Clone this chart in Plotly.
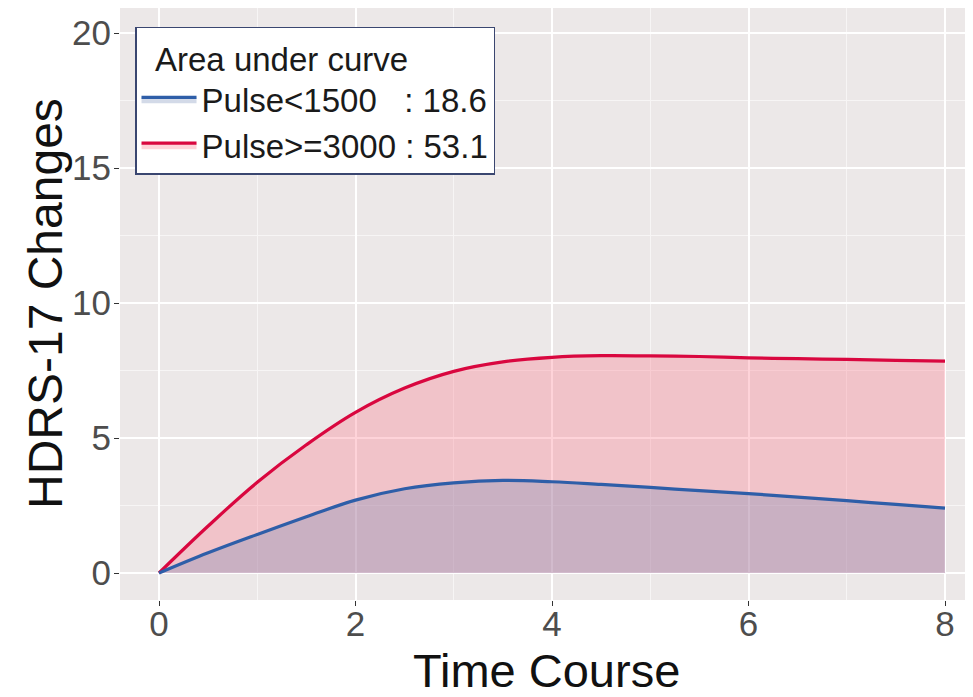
import plotly.graph_objects as go

# ---- data ----
time_course = [0, 0.5, 1, 1.5, 2, 2.5, 3, 3.5, 4, 4.5, 5, 5.5, 6, 6.5, 7, 7.5, 8]
pulse_low = [0, 0.75, 1.43, 2.08, 2.7, 3.12, 3.34, 3.43, 3.38, 3.28, 3.17, 3.05, 2.94, 2.81, 2.68, 2.54, 2.4]
pulse_high = [0, 1.74, 3.36, 4.75, 5.95, 6.85, 7.47, 7.82, 7.99, 8.05, 8.04, 8.02, 7.97, 7.94, 7.91, 7.88, 7.85]
series_names = ["Pulse<1500", "Pulse>=3000"]
auc_values = [18.6, 53.1]
x_ticks = [0, 2, 4, 6, 8]
y_ticks = [0, 5, 10, 15, 20]
x_title = "Time Course"
y_title = "HDRS-17 Changes"
legend_title = "Area under curve"

FONT = "Liberation Sans, Arial, sans-serif"

labels = [
    series_names[0] + "\u00a0\u00a0\u00a0: " + f"{auc_values[0]}",
    series_names[1] + "\u00a0: " + f"{auc_values[1]}",
]

fig = go.Figure()
fig.add_trace(go.Scatter(
    x=time_course, y=pulse_high, name=labels[1], mode="lines",
    line=dict(color="#D9073F", width=3.2, shape="spline", smoothing=1.1),
    fill="tozeroy", fillcolor="rgba(253,110,130,0.30)", legendrank=2,
))
fig.add_trace(go.Scatter(
    x=time_course, y=pulse_low, name=labels[0], mode="lines",
    line=dict(color="#2E5EA8", width=3.2, shape="spline", smoothing=1.1),
    fill="tozeroy", fillcolor="rgba(108,133,179,0.30)", legendrank=1,
))

# the page body has an 8px margin, so the figure is sized to fill the rest of the window
fig.update_layout(
    width=965, height=689,
    margin=dict(l=112, r=0, t=0, b=97),
    paper_bgcolor="white",
    plot_bgcolor="#ECE8E8",
    font=dict(family=FONT, color="#4D4D4D"),
    showlegend=True,
    legend=dict(
        x=0.0176, y=0.968, xanchor="left", yanchor="top",
        bgcolor="white", bordercolor="#3A4670", borderwidth=1.5,
        font=dict(family=FONT, size=33, color="#1A1A1A"),
        title=dict(text="\u2002" + legend_title, font=dict(family=FONT, size=33, color="#1A1A1A")),
        tracegroupgap=0, itemwidth=55,
    ),
    xaxis=dict(
        range=[-0.397, 8.285], tickvals=x_ticks, ticks="outside", ticklen=5,
        tickcolor="#333333", tickwidth=1.2, automargin=False, ticklabelstandoff=-12,
        tickfont=dict(family=FONT, size=35, color="#4D4D4D"),
        showgrid=True, gridcolor="white", gridwidth=2, zeroline=False,
        minor=dict(dtick=1, tick0=0, showgrid=True, gridcolor="#F7F5F5", gridwidth=1, ticks=""),
        showline=False,
    ),
    yaxis=dict(
        range=[-1.0, 20.93], tickvals=y_ticks, ticks="outside", ticklen=5,
        tickcolor="#333333", tickwidth=1.2, automargin=False, ticklabelstandoff=-4,
        tickfont=dict(family=FONT, size=35, color="#4D4D4D"),
        showgrid=True, gridcolor="white", gridwidth=2, zeroline=False,
        minor=dict(dtick=2.5, tick0=0, showgrid=True, gridcolor="#F7F5F5", gridwidth=1, ticks=""),
        showline=False,
    ),
    annotations=[
        dict(text=x_title, xref="paper", yref="paper", x=0.5, y=-0.1199,
             xanchor="center", yanchor="middle", showarrow=False,
             font=dict(family=FONT, size=47, color="#111111")),
        dict(text=y_title, xref="paper", yref="paper", x=-0.0879, y=0.5,
             xanchor="center", yanchor="middle", textangle=-90, showarrow=False,
             font=dict(family=FONT, size=48, color="#111111")),
    ],
)

fig.write_html("out.html")
